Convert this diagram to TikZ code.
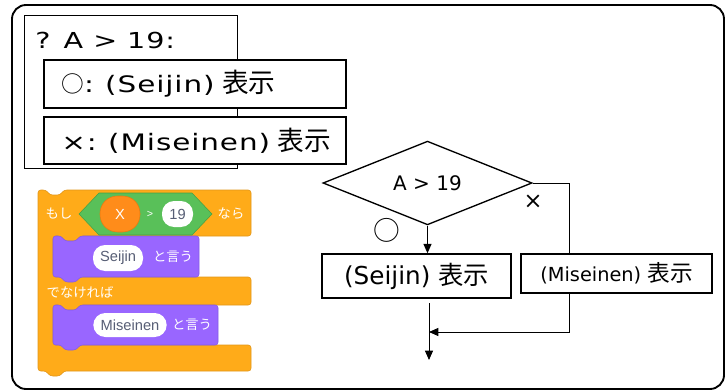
\documentclass[tikz,border=0pt]{standalone}
\usepackage{fontspec}
\setmainfont{DejaVu Sans}
\newfontfamily\wide[FakeStretch=1.3,LetterSpace=4]{DejaVu Sans}
\newfontfamily\jp{Noto Sans CJK JP}
\newfontfamily\ui{Liberation Sans}
\usetikzlibrary{arrows.meta,shapes.geometric}
\definecolor{scrOrange}{HTML}{FFAB19}
\definecolor{scrOrangeEdge}{HTML}{E0951A}
\definecolor{scrGreen}{HTML}{59C059}
\definecolor{scrGreenEdge}{HTML}{45A045}
\definecolor{scrPurple}{HTML}{9966FF}
\definecolor{scrPurpleEdge}{HTML}{855CE6}
\definecolor{scrVar}{HTML}{FF8C1A}
\definecolor{scrVarEdge}{HTML}{E67A10}
\definecolor{scrText}{HTML}{575E75}
\newcommand\ja[2]{{\jp\fontsize{#1}{#1}\selectfont #2}}
\tikzset{
  frame/.style={draw=black,line width=1.4pt,rounded corners=10.5pt},
  listbox/.style={draw=black,line width=1.1pt,fill=white,inner ysep=0pt,inner xsep=13pt,
    text width=200.5pt,align=left,font=\wide\fontsize{17}{20}\selectfont},
  stepbox/.style={draw=black,line width=1.1pt,fill=white,inner sep=0pt},
  decision/.style={diamond,draw=black,line width=1pt,inner sep=0pt,
    minimum width=156.75pt,minimum height=60pt},
  link/.style={draw=black,line width=0.7pt},
  flow/.style={link,-{Triangle[length=7pt,width=6pt]}},
  branch/.style={inner sep=0pt},
  ctrlblock/.style={fill=scrOrange,draw=scrOrangeEdge,line width=0.4pt,rounded corners=2pt},
  saysblock/.style={fill=scrPurple,draw=scrPurpleEdge,line width=0.4pt,rounded corners=2pt},
  boolblock/.style={fill=scrGreen,draw=scrGreenEdge,line width=0.4pt},
  blocklabel/.style={text=white,inner sep=0pt},
  pill/.style={fill=white,inner sep=0pt,rounded corners=9pt,text=scrText,
    font=\ui\fontsize{11}{12}\selectfont},
}

\begin{document}
\begin{tikzpicture}[x=0.75pt,y=-0.75pt]
  \useasboundingbox (0,0) rectangle (727,392);
  \draw[frame] (12,5) rectangle (724,389);

  % if/else summary, the two rows sit over the outer box
  \node[draw=black,line width=1.1pt,inner sep=0pt,anchor=north west,
    minimum width=159.75pt,minimum height=114.75pt] (cond) at (24,15) {};
  \node[inner sep=0pt,anchor=west,font=\wide\fontsize{16.5}{20}\selectfont]
    (condtext) at (35,40) {? A > 19:};
  \node[listbox,minimum height=36pt] (yesrow) at (195,84)
    {\ja{17}{○}: (Seijin) \ja{20}{表示}};
  \node[listbox,minimum height=35.25pt] (norow) at (195,140.5)
    {×: (Miseinen) \ja{20}{表示}};

  % Scratch if/else block
  \draw[ctrlblock] (38,190) -- (46,190) -- (50,195) -- (60,195) -- (64,190)
    -- (251,190) -- (251,236) -- (80,236) -- (76,241) -- (65,241) -- (61,236)
    -- (53,236) -- (53,277) -- (251,277) -- (251,305) -- (80,305) -- (76,310)
    -- (65,310) -- (61,305) -- (53,305) -- (53,345) -- (251,345) -- (251,371)
    -- (64,371) -- (60,376) -- (50,376) -- (46,371) -- (38,371) -- cycle;
  \draw[saysblock] (53,236) -- (61,236) -- (65,241) -- (76,241) -- (80,236)
    -- (199,236) -- (199,277) -- (80,277) -- (76,282) -- (65,282) -- (61,277)
    -- (53,277) -- cycle;
  \draw[saysblock] (53,305) -- (61,305) -- (65,310) -- (76,310) -- (80,305)
    -- (218,305) -- (218,345) -- (80,345) -- (76,350) -- (65,350) -- (61,345)
    -- (53,345) -- cycle;
  \draw[boolblock] (79,214) -- (99,193) -- (192,193) -- (212,214) -- (192,235)
    -- (99,235) -- cycle;

  \node[blocklabel] (ifword) at (59,214) {\ja{10}{もし}};
  \node[blocklabel] (thenword) at (231,214) {\ja{10}{なら}};
  \node[fill=scrVar,draw=scrVarEdge,line width=0.4pt,rounded corners=13pt,
    minimum width=30pt,minimum height=27pt,inner sep=0pt,text=white,
    font=\ui\fontsize{11}{12}\selectfont] (var) at (120,214) {X};
  \node[blocklabel,font=\ui\fontsize{8}{9}\selectfont] (gt) at (150,214) {>};
  \node[pill,minimum width=23.25pt,minimum height=19.5pt] (limit) at (177.5,214) {19};
  \node[pill,minimum width=37.5pt,minimum height=19.5pt] (saya) at (118,258) {Seijin};
  \node[blocklabel] (sayaword) at (173,257) {\ja{10}{と言う}};
  \node[blocklabel] (elseword) at (80,292) {\ja{10}{でなければ}};
  \node[pill,minimum width=55pt,minimum height=18pt] (sayb) at (130,325) {Miseinen};
  \node[blocklabel] (saybword) at (192,325) {\ja{10}{と言う}};

  % flowchart
  \node[decision] (test) at (427.5,183) {\fontsize{15}{16}\selectfont A > 19};
  \node[stepbox,minimum width=141.75pt,minimum height=33pt] (adult) at (416.5,276)
    {\fontsize{18.5}{20}\selectfont (Seijin) \ja{19}{表示}};
  \node[stepbox,minimum width=143.25pt,minimum height=29.25pt] (minor) at (616.5,273.5)
    {\fontsize{14.5}{16}\selectfont (Miseinen) \ja{17}{表示}};
  \coordinate (side) at (569,183);
  \coordinate (adultout) at (429,303);
  \coordinate (merge) at (429,332);
  \coordinate (exit) at (429,360);

  \draw[flow] (test.south) -- (test.south |- adult.north);
  \draw[link] (test.east) -- (side) -- (side |- minor.north);
  \draw[flow] (side |- minor.south) |- (merge);
  \draw[flow] (adultout) -- (exit);

  \node[branch] (yes) at (387,230) {\ja{20}{○}};
  \node[branch,font=\fontsize{17}{17}\selectfont] (no) at (533,202) {×};
\end{tikzpicture}
\end{document}
